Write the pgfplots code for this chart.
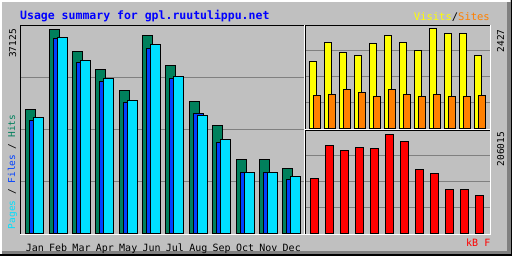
\documentclass[border=0pt]{standalone}
\usepackage{pgfplots}
\pgfplotsset{compat=1.18}
\usepackage{pgfplotstable}
\usepackage{fontspec}
\setmonofont{DejaVu Sans Mono}
\definecolor{bg}{HTML}{C0C0C0}
\definecolor{dkgrey}{HTML}{808080}
\definecolor{hits}{HTML}{00805C}
\definecolor{files}{HTML}{0040FF}
\definecolor{pages}{HTML}{00E0FF}
\definecolor{visits}{HTML}{FFFF00}
\definecolor{sites}{HTML}{FF8000}
\definecolor{kbytes}{HTML}{FF0000}
\definecolor{titleblue}{HTML}{0000FF}

\pgfplotstableread{
m hits files pages
0 22489 20494 21165
1 37125 35492 35673
2 33135 31140 31502
3 29870 27567 28238
4 26062 23885 24121
5 36036 33679 34404
6 30596 28238 28601
7 24067 21890 21527
8 19714 16631 17175
9 13475 11190 11190
10 13475 11190 11190
11 11915 9920 10464
}\mainT

\pgfplotstableread{
m visits sites
0 1650 801
1 2087 825
2 1845 947
3 1772 874
4 2063 777
5 2281 947
6 2111 825
7 1893 777
8 2427 825
9 2306 777
10 2306 777
11 1772 801
}\visT

\pgfplotstableread{
m kb
0 115100
1 183300
2 172950
3 179150
4 177100
5 206015
6 191550
7 133700
8 125400
9 92350
10 92350
11 79970
}\kbT

\pgfplotsset{
  wb/.style={scale only axis, anchor=south west,
    axis line style={draw=none}, tick style={draw=none},
    scaled y ticks=false, scaled x ticks=false,
    ymin=0, yticklabels={}, ymajorgrids, xmajorgrids=false,
    major grid style={dkgrey, line width=1pt},
    ybar, every axis plot/.append style={draw=black, line width=1pt}},
}
\newcommand{\smallmono}{\ttfamily\fontsize{9.5}{10}\selectfont}
\newcommand{\medmono}{\ttfamily\fontsize{10}{10}\selectfont}

\begin{document}
\begin{tikzpicture}[x=1pt,y=1pt]
\useasboundingbox (0,0) rectangle (512,256);
\fill[bg] (0,0) rectangle (512,256);
% outer bevel
\fill[white] (0,254) rectangle (510,256);
\fill[white] (0,2) rectangle (2,256);
\fill[dkgrey] (2,1.5) rectangle (510.5,5);
\fill[dkgrey] (506.5,1.5) rectangle (510.5,254);
\fill[black] (0,0) rectangle (512,1.5);
\fill[black] (510.5,0) rectangle (512,256);

% main panel
\begin{axis}[wb, at={(20pt,22pt)}, width=285pt, height=209pt,
  xmin=-0.634, xmax=11.567, ymax=37904,
  ytick={9476,18952,28428},
  xtick={0,...,11},
  xticklabels={Jan,Feb,Mar,Apr,May,Jun,Jul,Aug,Sep,Oct,Nov,Dec},
  xticklabel style={font=\medmono, anchor=base, inner sep=0pt, yshift=-13pt, text=black}]
\addplot[fill=hits, bar width=10pt, bar shift=-4pt] table[x=m, y=hits] {\mainT};
\addplot[fill=files, bar width=10pt, bar shift=0pt] table[x=m, y=files] {\mainT};
\addplot[fill=pages, bar width=10pt, bar shift=4pt] table[x=m, y=pages] {\mainT};
\end{axis}

% visits / sites panel
\begin{axis}[wb, at={(305pt,127pt)}, width=186pt, height=104pt,
  xmin=-0.657, xmax=11.743, ymax=2524,
  ytick={631,1262,1893}, xtick=\empty]
\addplot[fill=visits, bar width=7pt, bar shift=-2pt] table[x=m, y=visits] {\visT};
\addplot[fill=sites, bar width=7pt, bar shift=2pt] table[x=m, y=sites] {\visT};
\end{axis}

% kbytes panel
\begin{axis}[wb, at={(305pt,22pt)}, width=186pt, height=104pt,
  xmin=-0.657, xmax=11.743, ymax=214900,
  ytick={53725,107450,161175}, xtick=\empty]
\addplot[fill=kbytes, bar width=8pt, bar shift=0pt] table[x=m, y=kb] {\kbT};
\end{axis}

% panel frames
\draw[black, line width=1pt] (20.5,21) -- (20.5,230.5) -- (305,230.5);
\draw[white, line width=1pt] (20,21.5) -- (304.5,21.5) -- (304.5,231);
\draw[black, line width=1pt] (305.5,126) -- (305.5,230.5) -- (491,230.5);
\draw[white, line width=1pt] (305,126.5) -- (490.5,126.5) -- (490.5,231);
\draw[black, line width=1pt] (305.5,21) -- (305.5,125.5) -- (491,125.5);
\draw[white, line width=1pt] (305,21.5) -- (490.5,21.5) -- (490.5,126);

% texts
\node[anchor=base west, inner sep=0pt, text=titleblue,
  font=\ttfamily\bfseries\fontsize{11.5}{12}\selectfont] at (20,236.3)
  {Usage summary for gpl.ruutulippu.net};
\node[anchor=base east, inner sep=0pt, font=\ttfamily\fontsize{10.5}{11}\selectfont] at (490,235.5)
  {\textcolor{visits}{Visits}\textcolor{black}{/}\textcolor{sites}{Sites}};
\node[anchor=base east, inner sep=0pt, font=\medmono, text=kbytes] at (490.5,9) {kB F};
\node[rotate=90, anchor=base east, inner sep=0pt, font=\smallmono] at (16,227) {37125};
\node[rotate=90, anchor=base east, inner sep=0pt, font=\smallmono] at (504,226.7) {2427};
\node[rotate=90, anchor=base east, inner sep=0pt, font=\smallmono] at (504,124.3) {206015};
\node[rotate=90, anchor=base west, inner sep=0pt, font=\smallmono] at (15,26.7)
  {\textcolor{pages}{Pages} / \textcolor{files}{Files} / \textcolor{hits}{Hits}};
\end{tikzpicture}
\end{document}
